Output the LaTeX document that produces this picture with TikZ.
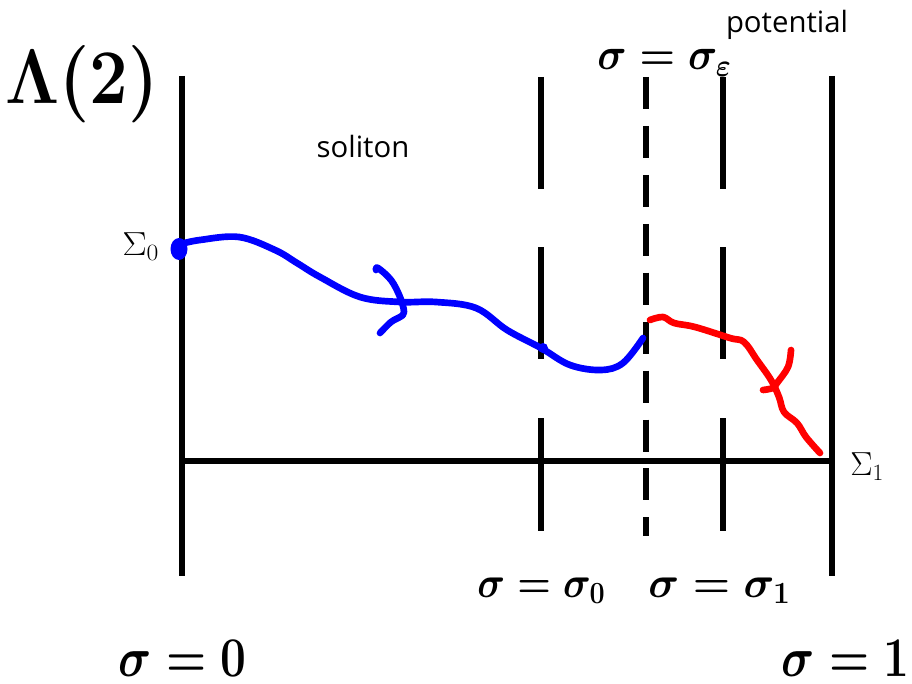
\RequirePackage{fix-cm}
\documentclass[tikz,border=0pt]{standalone}
\usepackage{fontspec}
\usepackage{amsmath}
\newfontfamily\labelfont{Open Sans}
\begin{document}
\begin{tikzpicture}[x=0.75pt,y=-0.75pt,
  wall/.style={line width=5pt,black},
  dashwall/.style={line width=5pt,black,dash pattern=on 24pt off 12.7pt},
  pathline/.style={line width=5pt,line cap=round,line join=round},
  bigmath/.style={inner sep=0pt,anchor=base west,font=\fontsize{42}{44}\selectfont},
  midmath/.style={inner sep=0pt,anchor=base west,font=\fontsize{33}{35}\selectfont},
  sig/.style={inner sep=0pt,anchor=base west,font=\fontsize{25}{27}\selectfont},
  word/.style={inner sep=0pt,anchor=base,font=\labelfont\fontsize{22}{24}\selectfont}]
\useasboundingbox (0,0) rectangle (912,684);
% vertical walls and axis
\draw[wall] (182,76) -- (182,576);
\draw[wall] (832,76) -- (832,576);
\draw[wall] (182,461) -- (829,461);
\foreach \x in {541,723}{
  \draw[wall] (\x,77) -- (\x,189);
  \draw[wall] (\x,247) -- (\x,359);
  \draw[wall] (\x,418) -- (\x,531);
}
\draw[dashwall] (646,77) -- (646,536);
% blue soliton path
\fill[blue] (179,249) ellipse (8.5 and 11);
\draw[blue,pathline] plot[smooth,tension=0.6] coordinates {(181,244) (200,240) (239,237) (275,250) (297,263) (320,277) (360,297) (400,302) (436,302) (476,308) (507,330) (541,348) (570,365) (601,370) (623,363) (643,338)};
\fill[blue] (543,348) circle (5);
\draw[blue,pathline] plot[smooth,tension=0.6] coordinates {(376,270) (378,268) (391,280) (400,297) (404,312) (400,317) (391,322) (380,333)};
% red potential path
\draw[red,pathline] plot[smooth,tension=0.6] coordinates {(650,320) (663,317) (674,323) (695,327) (730,338) (744,342) (757,360) (771,380) (779,397) (784,412) (797,423) (806,437) (820,453)};
\draw[red,pathline] plot[smooth,tension=0.6] coordinates {(791,350) (788,367) (777,383) (773,388) (763,390)};
% labels
\node[inner sep=0pt,font=\fontsize{58}{60}\selectfont] (lam) at (82,84) {\scalebox{0.89}[1]{$\boldsymbol{\Lambda(2)}$}};
\node[inner sep=0pt,anchor=base west,font=\fontsize{34}{36}\selectfont] (seps) at (597,70) {\scalebox{0.895}[1]{$\boldsymbol{\sigma=\sigma_\varepsilon}$}};
\node[word] (pot) at (787,33) {potential};
\node[word] (sol) at (363,158) {soliton};
\node[sig] (s0) at (122,255) {\scalebox{1.1}[1]{$\Sigma_0$}};
\node[sig] (s1) at (850,475) {$\Sigma_1$};
\node[midmath] (ls0) at (477,597) {\scalebox{0.873}[1]{$\boldsymbol{\sigma=\sigma_0}$}};
\node[midmath] (ls1) at (648,597) {\scalebox{0.97}[1]{$\boldsymbol{\sigma=\sigma_1}$}};
\node[bigmath] (l0) at (118,676) {\scalebox{0.82}[1]{$\boldsymbol{\sigma=0}$}};
\node[bigmath] (l1) at (781,676) {\scalebox{0.82}[1]{$\boldsymbol{\sigma=1}$}};
\end{tikzpicture}
\end{document}
